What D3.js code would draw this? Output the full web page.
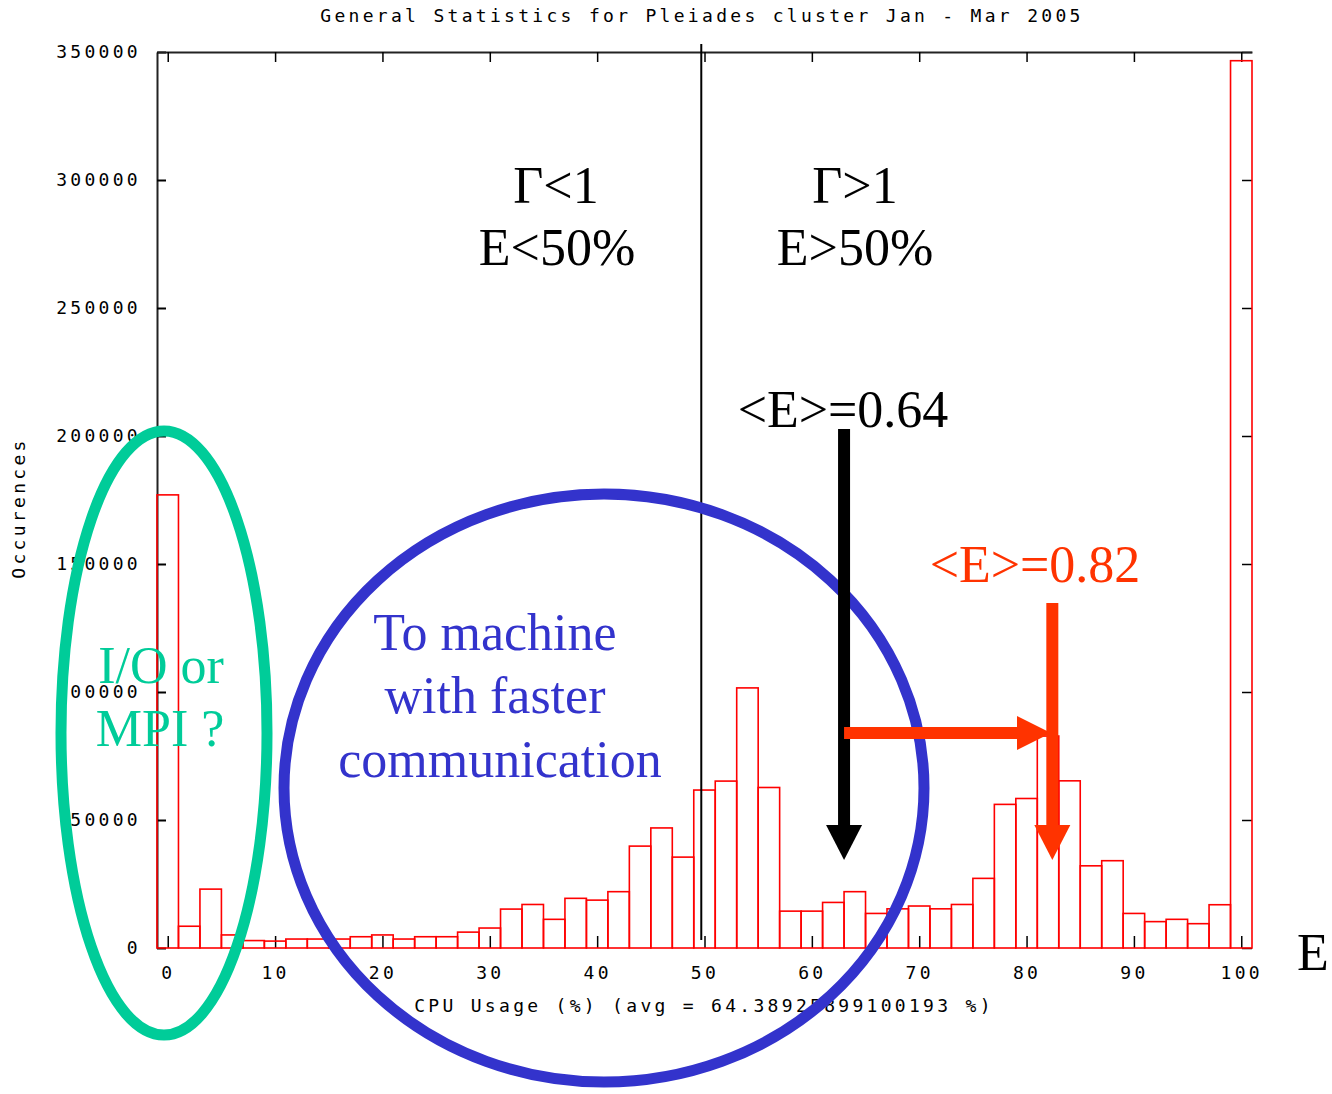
<!DOCTYPE html>
<html lang="en">
<head>
<meta charset="UTF-8">
<title>General Statistics for Pleiades cluster</title>
<script src="https://d3js.org/d3.v7.min.js"></script>
<style>
    body { margin: 0; background: #fff; }
    .pix text, text.pix {
        font-family: 'DejaVu Sans Mono', monospace;
        font-size: 18px;
        letter-spacing: 3.3px;
        fill: #000;
    }
    text.note {
        font-family: 'Liberation Serif', 'Times New Roman', serif;
        font-size: 52px;
        text-anchor: middle;
    }
</style>
</head>
<body>
<svg width="1332" height="1094"></svg>
<script>
    // histogram bins (centre of each 2% wide bin) and counts
    const cpuBins = [0, 2, 4, 6, 8, 10, 12, 14, 16, 18, 20, 22, 24, 26, 28, 30, 32, 34, 36, 38,
        40, 42, 44, 46, 48, 50, 52, 54, 56, 58, 60, 62, 64, 66, 68, 70, 72, 74, 76, 78,
        80, 82, 84, 86, 88, 90, 92, 94, 96, 98, 100];
    const occurrences = [177000, 8500, 23000, 5100, 2900, 2700, 3500, 3500, 3500, 4400,
        5100, 3500, 4400, 4400, 6200, 7800, 15200, 17000, 11200, 19400,
        18700, 22000, 39800, 46900, 35500, 61700, 65200, 101600, 62700, 14400,
        14400, 17800, 22000, 13500, 15300, 16400, 15300, 17000, 27200, 56100,
        58400, 82800, 65300, 32100, 34100, 13500, 10300, 11200, 9500, 16900,
        346600];
    const xTicks = [0, 10, 20, 30, 40, 50, 60, 70, 80, 90, 100];
    const yTicks = [0, 50000, 100000, 150000, 200000, 250000, 300000, 350000];

    const title = "General Statistics for Pleiades cluster Jan - Mar 2005";
    const xLabel = "CPU Usage (%) (avg = 64.38925899100193 %)";
    const yLabel = "Occurences";

    const binWidth = 2;
    const svg = d3.select("svg");
    const x = d3.scaleLinear().domain([-1, 101]).range([157, 1252]);
    const y = d3.scaleLinear().domain([0, 350000]).range([948, 52]);

    // axes, ticks pointing inward like the gnuplot frame
    svg.append("g").attr("class", "pix")
        .attr("transform", `translate(${x(-1)},0)`)
        .call(d3.axisLeft(y).tickValues(yTicks).tickFormat(d3.format("d"))
            .tickSizeInner(-9).tickSizeOuter(0).tickPadding(16))
        .call(g => g.select(".domain").attr("stroke", "#222").attr("stroke-width", 2))
        .call(g => g.selectAll(".tick line").attr("stroke-width", 2));
    svg.append("g")
        .attr("transform", `translate(${x(101)},0)`)
        .call(d3.axisRight(y).tickValues(yTicks).tickSizeInner(-10).tickSizeOuter(0).tickFormat(""))
        .call(g => g.select(".domain").remove())
        .call(g => g.selectAll(".tick line").attr("stroke-width", 1.5));
    svg.append("g")
        .attr("transform", `translate(0,${y(350000)})`)
        .call(d3.axisTop(x).tickValues(xTicks).tickSizeInner(-10).tickSizeOuter(0).tickFormat(""))
        .call(g => g.select(".domain").attr("stroke", "#222").attr("stroke-width", 2))
        .call(g => g.selectAll(".tick line").attr("stroke-width", 1.5));
    svg.append("g").attr("class", "pix")
        .attr("transform", `translate(0,${y(0)})`)
        .call(d3.axisBottom(x).tickValues(xTicks).tickSizeInner(-12).tickSizeOuter(0).tickPadding(18))
        .call(g => g.select(".domain").remove())
        .call(g => g.selectAll(".tick line").attr("stroke-width", 1.5));

    // bars
    svg.append("g").selectAll("rect").data(cpuBins).enter().append("rect")
        .attr("x", d => x(d - binWidth / 2))
        .attr("width", d => x(d + binWidth / 2) - x(d - binWidth / 2))
        .attr("y", (d, i) => y(occurrences[i]))
        .attr("height", (d, i) => y(0) - y(occurrences[i]))
        .attr("fill", "none")
        .attr("stroke", "#ff0000")
        .attr("stroke-width", 1.6);

    // titles
    svg.append("text").attr("class", "pix")
        .attr("x", 702).attr("y", 22).attr("text-anchor", "middle").text(title);
    svg.append("text").attr("class", "pix")
        .attr("x", 704).attr("y", 1012).attr("text-anchor", "middle").text(xLabel);
    svg.append("text").attr("class", "pix")
        .attr("transform", "translate(25,508) rotate(-90)")
        .attr("text-anchor", "middle").text(yLabel);

    // E = 50% divider (drawn by hand on the slide, a little left of the tick)
    svg.append("line")
        .attr("x1", x(49.7)).attr("x2", x(49.7))
        .attr("y1", 44).attr("y2", 940)
        .attr("stroke", "#000").attr("stroke-width", 2);

    // slide annotations
    const note = (txt, cx, base, color) => svg.append("text").attr("class", "note")
        .attr("x", cx).attr("y", base).attr("fill", color).text(txt);
    note("Γ<1", 556, 203, "#000");
    note("E<50%", 557, 265, "#000");
    note("Γ>1", 855, 203, "#000");
    note("E>50%", 855, 265, "#000");
    note("<E>=0.64", 843, 427, "#000");
    note("<E>=0.82", 1035, 582, "#ff3300");
    note("E", 1313, 970, "#000");
    note("I/O or", 161, 683, "#00cc99");
    note("MPI ?", 160, 746, "#00cc99");
    note("To machine", 495, 650, "#3333cc");
    note("with faster", 495, 713, "#3333cc");
    note("communication", 500, 777, "#3333cc");

    svg.append("ellipse")
        .attr("cx", 164).attr("cy", 733).attr("rx", 103).attr("ry", 302)
        .attr("fill", "none").attr("stroke", "#00cc99").attr("stroke-width", 11);
    svg.append("ellipse")
        .attr("cx", 604).attr("cy", 788).attr("rx", 320).attr("ry", 294)
        .attr("fill", "none").attr("stroke", "#3333cc").attr("stroke-width", 11);

    // arrows
    function arrowDown(cx, top, tip, color) {
        svg.append("rect").attr("x", cx - 6).attr("y", top).attr("width", 12).attr("height", tip - 34 - top + 2)
            .attr("fill", color);
        svg.append("path")
            .attr("d", `M${cx - 18},${tip - 35}L${cx + 18},${tip - 35}L${cx},${tip}Z`)
            .attr("fill", color);
    }
    arrowDown(x(63), 429, 860, "#000");
    svg.append("rect").attr("x", x(63)).attr("y", 727).attr("width", 1018 - x(63)).attr("height", 12)
        .attr("fill", "#ff3300");
    svg.append("path").attr("d", "M1017,716L1017,750L1051,733Z").attr("fill", "#ff3300");
    arrowDown(x(82.4), 603, 860, "#ff3300");
</script>
</body>
</html>
